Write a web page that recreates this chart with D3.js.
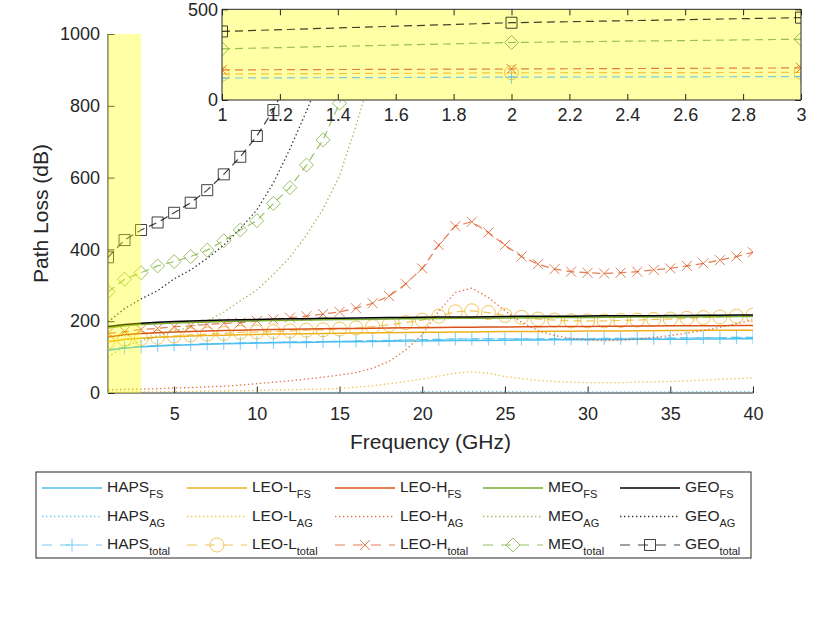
<!DOCTYPE html>
<html>
<head>
<meta charset="utf-8">
<script src="https://cdn.jsdelivr.net/npm/d3@7"></script>
<style>
  body { margin: 0; background: #fff; }
  svg { font-family: "Liberation Sans", Arial, sans-serif; }
  .tick text { fill: #262626; }
  .tick line, .domain { stroke: #262626; }
</style>
</head>
<body>
<div id="chart"></div>
<script>
// data (dB), markers at every GHz
var freq = [1,2,3,4,5,6,7,8,9,10,11,12,13,14,15,16,17,18,19,20,
            21,22,23,24,25,26,27,28,29,30,31,32,33,34,35,36,37,38,39,40];

var hapsFS = [119,125,128.5,131,133,134.5,136,137,138,139,140,140.5,141,142,142.5,143,143.5,144,144.5,145,
              145.5,146,146,146.5,147,147.5,147.5,148,148,148.5,149,149,149.5,149.5,150,150,150.5,150.5,151,151];
var hapsAG = [0.4,0.5,0.5,0.6,0.6,0.7,0.7,0.8,0.9,1.0,1.1,1.2,1.3,1.4,1.6,1.8,2.1,2.5,3.0,3.6,
              4.2,4.6,4.7,4.4,3.9,3.4,3.1,2.9,2.8,2.8,2.8,2.9,3.0,3.1,3.2,3.4,3.5,3.7,3.9,4.1];
var hapsTotal = [121,126,129,132,134,135,137,138,139,140,141,142,142.5,143.5,144,145,145.5,146.5,147.5,148.5,
                 149.5,150.5,150.5,151,151,151,150.5,151,151,151.5,152,152,152.5,152.5,153,153.5,154,154,155,155];

var leoLFS = [143,149,152.5,155,157,158.5,160,161,162,163,164,164.5,165,166,166.5,167,167.5,168,168.5,169,
              169.5,170,170,170.5,171,171.5,171.5,172,172,172.5,173,173,173.5,173.5,174,174,174.5,174.5,175,175];
var leoLAG = [2,2.5,3,3.5,4,4.5,5,5.5,6,7,8,9,10,11,13,16,20,26,32,39,
              47,55,59,55,46,40,35,32,30,29,29,29,30,31,32,34,36,38,40,42];
var leoLTotal = [143,150,152,155,159,162,164,166,169,170,171,173,175,176,178,181,185,190,196,203,
                 214,226,229,224,216,211,206,203,201,201,201,202,203,205,206,208,210,212,214,217];

var leoHFS = [156,162,165.5,168,170,171.5,173,174,175,176,177,177.5,178,179,179.5,180,180.5,181,181.5,182,
              182.5,183,183,183.5,184,184.5,184.5,185,185,185.5,186,186,186.5,186.5,187,187,187.5,187.5,188,188];
var leoHAG = [9,10,11,12,14,15,17,19,22,26,30,34,39,44,50,57,69,88,120,162,
              228,280,292,266,229,197,174,160,152,148,146,147,150,155,160,167,174,183,193,204];
var leoHTotal = [166,171,177,180,185,187,191,194,196,201,205,210,214,220,226,236,250,270,304,347,
                 412,465,477,447,412,380,359,345,338,335,333,335,338,343,347,354,361,370,380,392];

var meoFS = [181,187,190.5,193,195,196.5,198,199,200,201,202,202.5,203,204,204.5,205,205.5,206,206.5,207,
             207.5,208,208,208.5,209,209.5,209.5,210,210,210.5,211,211,211.5,211.5,212,212,212.5,212.5,213,213];
var meoAG = [101,130,145,160,172,184,201,225,257,287,330,378,440,512,605,745,900,1060];
var meoTotal = [282,317,335,354,366,380,398,424,454,480,528,572,635,705,807,950,1105];

var geoFS = [185,191,194.5,197,199,200.5,202,203,204,205,206,206.5,207,208,208.5,209,209.5,210,210.5,211,
             211.5,212,212,212.5,213,213.5,213.5,214,214,214.5,215,215,215.5,215.5,216,216,216.5,216.5,217,217];
var geoAG = [198,235,262,285,318,343,375,412,458,510,585,680,785,900,1030];
var geoTotal = [378,426,454,475,502,530,565,609,658,716,788,885,995,1110];

var systems = ["HAPS", "LEO-L", "LEO-H", "MEO", "GEO"];
var colors = ["#4DBEEE", "#EDB120", "#D95319", "#77AC30", "#000000"];
var markers = ["plus", "circle", "cross", "diamond", "square"];

var mainTicksX = [5,10,15,20,25,30,35,40];
var mainTicksY = [0,200,400,600,800,1000];
var insetTicksX = [1,1.2,1.4,1.6,1.8,2,2.2,2.4,2.6,2.8,3];
var insetTicksY = [0,500];
var zoomBand = [1,3];

var series = [
  {fs: hapsFS, ag: hapsAG, total: hapsTotal},
  {fs: leoLFS, ag: leoLAG, total: leoLTotal},
  {fs: leoHFS, ag: leoHAG, total: leoHTotal},
  {fs: meoFS, ag: meoAG, total: meoTotal},
  {fs: geoFS, ag: geoAG, total: geoTotal}
];
series.forEach(function(s, i) { s.name = systems[i]; s.color = colors[i]; s.marker = markers[i]; });

// helpers
var W = 830, H = 623;
var svg = d3.select("#chart").append("svg").attr("width", W).attr("height", H);
var ink = "#262626";
var fmt = d3.format("~g");

var markerPath = function(type) {
  var s;
  switch (type) {
    case "plus": s = 6.5; return "M" + (-s) + ",0H" + s + "M0," + (-s) + "V" + s;
    case "cross": s = 5; return "M" + (-s) + "," + (-s) + "L" + s + "," + s + "M" + (-s) + "," + s + "L" + s + "," + (-s);
    case "circle": s = 7; return "M" + s + ",0A" + s + "," + s + " 0 1,1 " + (-s) + ",0A" + s + "," + s + " 0 1,1 " + s + ",0Z";
    case "diamond": s = 7; return "M0," + (-s) + "L" + s + ",0L0," + s + "L" + (-s) + ",0Z";
    default: s = 5.5; return "M" + (-s) + "," + (-s) + "H" + s + "V" + s + "H" + (-s) + "Z";
  }
};

var styles = {
  fs:    {dash: null,      width: 1.5, opacity: 1},
  ag:    {dash: "1.4,2.6", width: 1.3, opacity: 0.8},
  total: {dash: "8,5",     width: 1.2, opacity: 0.75}
};

var drawSeries = function(g, x, y, kinds) {
  series.forEach(function(s) {
    kinds.forEach(function(k) {
      var vals = s[k];
      var pts = vals.map(function(v, i) { return [freq[i], v]; });
      var line = d3.line().x(function(d) { return x(d[0]); }).y(function(d) { return y(d[1]); });
      var st = styles[k];
      g.append("path").datum(pts)
        .attr("d", line)
        .attr("fill", "none")
        .attr("stroke", s.color)
        .attr("stroke-width", st.width)
        .attr("stroke-opacity", st.opacity)
        .attr("stroke-dasharray", st.dash);
      if (k === "total") {
        g.selectAll(null).data(pts).enter().append("path")
          .attr("transform", function(d) { return "translate(" + x(d[0]) + "," + y(d[1]) + ")"; })
          .attr("d", markerPath(s.marker))
          .attr("fill", "none")
          .attr("stroke", s.color)
          .attr("stroke-opacity", st.opacity)
          .attr("stroke-width", 1);
      }
    });
  });
};

// ---------------- main axes ----------------
var M = {left: 108, right: 753, top: 34, bottom: 393};
var x = d3.scaleLinear().domain([1, 40]).range([M.left, M.right]);
var y = d3.scaleLinear().domain([0, 1000]).range([M.bottom, M.top]);

svg.append("clipPath").attr("id", "clipMain").append("rect")
  .attr("x", M.left).attr("y", M.top).attr("width", M.right - M.left).attr("height", M.bottom - M.top);

var gx = svg.append("g").attr("transform", "translate(0," + M.bottom + ")")
  .call(d3.axisBottom(x).tickValues(mainTicksX).tickFormat(fmt).tickSize(-6.5).tickSizeOuter(0).tickPadding(14));
var gy = svg.append("g").attr("transform", "translate(" + M.left + ",0)")
  .call(d3.axisLeft(y).tickValues(mainTicksY).tickFormat(fmt).tickSize(-6.5).tickSizeOuter(0).tickPadding(8));
[gx, gy].forEach(function(g) {
  g.selectAll("text").attr("font-size", 18).attr("font-family", null);
  g.select(".domain").attr("stroke", ink);
});
gx.select(".domain").attr("d", "M" + M.left + ",0H" + M.right);
gy.select(".domain").attr("d", "M0," + M.bottom + "V" + M.top);

var plot = svg.append("g").attr("clip-path", "url(#clipMain)");
drawSeries(plot, x, y, ["fs", "ag", "total"]);

// highlighted band that the inset zooms into
svg.append("rect")
  .attr("x", x(zoomBand[0])).attr("y", y(1000))
  .attr("width", x(zoomBand[1]) - x(zoomBand[0])).attr("height", y(0) - y(1000))
  .attr("fill", "#ffff00").attr("fill-opacity", 0.35);

svg.append("text").attr("x", (M.left + M.right) / 2).attr("y", 449)
  .attr("text-anchor", "middle").attr("font-size", 21).attr("fill", ink)
  .text("Frequency (GHz)");
svg.append("text").attr("transform", "translate(48," + (M.top + M.bottom) / 2 + ") rotate(-90)")
  .attr("text-anchor", "middle").attr("font-size", 21).attr("fill", ink)
  .text("Path Loss (dB)");

// ---------------- inset ----------------
var I = {left: 222, right: 801, top: 9.3, bottom: 100};
var xi = d3.scaleLinear().domain([1, 3]).range([I.left, I.right]);
var yi = d3.scaleLinear().domain([0, 500]).range([I.bottom, I.top]);

svg.append("clipPath").attr("id", "clipInset").append("rect")
  .attr("x", I.left).attr("y", I.top).attr("width", I.right - I.left).attr("height", I.bottom - I.top);

svg.append("rect").attr("x", I.left).attr("y", I.top)
  .attr("width", I.right - I.left).attr("height", I.bottom - I.top)
  .attr("fill", "#ffffa6");

var inset = svg.append("g").attr("clip-path", "url(#clipInset)");
drawSeries(inset, xi, yi, ["total"]);

var ib = svg.append("g").attr("transform", "translate(0," + I.bottom + ")")
  .call(d3.axisBottom(xi).tickValues(insetTicksX).tickFormat(fmt).tickSize(-6).tickSizeOuter(0).tickPadding(8));
var it = svg.append("g").attr("transform", "translate(0," + I.top + ")")
  .call(d3.axisTop(xi).tickValues(insetTicksX).tickFormat("").tickSize(-6).tickSizeOuter(0));
var il = svg.append("g").attr("transform", "translate(" + I.left + ",0)")
  .call(d3.axisLeft(yi).tickValues(insetTicksY).tickFormat(fmt).tickSize(-6).tickSizeOuter(0).tickPadding(4));
var ir = svg.append("g").attr("transform", "translate(" + I.right + ",0)")
  .call(d3.axisRight(yi).tickValues(insetTicksY).tickFormat("").tickSize(-6).tickSizeOuter(0));
[ib, it, il, ir].forEach(function(g) {
  g.selectAll("text").attr("font-size", 18).attr("font-family", null);
  g.select(".domain").attr("stroke", "#7f7f7f");
});
ib.select(".domain").attr("d", "M" + I.left + ",0H" + I.right);
it.select(".domain").attr("d", "M" + I.left + ",0H" + I.right);
il.select(".domain").attr("d", "M0," + I.bottom + "V" + I.top);
ir.select(".domain").attr("d", "M0," + I.bottom + "V" + I.top);

// ---------------- legend ----------------
var L = {x: 36, y: 472, w: 715, h: 86};
var colX = [42, 187, 335, 483, 620];
var rowY = [488, 516.5, 545];
var kinds = ["fs", "ag", "total"];
var subs = ["FS", "AG", "total"];

var lg = svg.append("g");
lg.append("rect").attr("x", L.x).attr("y", L.y).attr("width", L.w).attr("height", L.h)
  .attr("fill", "#fff").attr("stroke", ink).attr("stroke-width", 1);

series.forEach(function(s, c) {
  kinds.forEach(function(k, r) {
    var x0 = colX[c], yy = rowY[r], st = styles[k];
    lg.append("line").attr("x1", x0).attr("x2", x0 + 60).attr("y1", yy).attr("y2", yy)
      .attr("stroke", s.color).attr("stroke-width", st.width)
      .attr("stroke-opacity", st.opacity)
      .attr("stroke-dasharray", k === "total" ? "10,8" : st.dash);
    if (k === "total") {
      lg.append("path").attr("transform", "translate(" + (x0 + 30) + "," + yy + ")")
        .attr("d", markerPath(s.marker)).attr("fill", "none")
        .attr("stroke", s.color).attr("stroke-opacity", st.opacity);
    }
    var t = lg.append("text").attr("x", x0 + 65).attr("y", yy + 4)
      .attr("font-size", 15.5).attr("fill", ink);
    t.append("tspan").text(s.name);
    t.append("tspan").attr("dy", 6).attr("font-size", 11).text(subs[r]);
  });
});
</script>
</body>
</html>
